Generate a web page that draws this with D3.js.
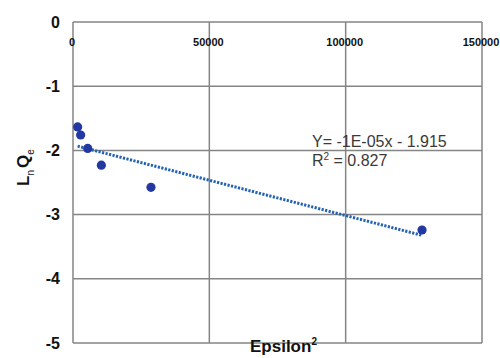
<!DOCTYPE html>
<html><head><meta charset="utf-8">
<script src="https://cdn.jsdelivr.net/npm/d3@7"></script>
<style>body{margin:0;background:#fff}svg{display:block}</style>
</head><body><svg id="c" width="500" height="358"></svg>
<script>
const xValues = [1700, 2800, 5400, 10400, 28600, 128000];
const yValues = [-1.635, -1.76, -1.97, -2.23, -2.575, -3.24];
const xTicks = [0, 50000, 100000, 150000];
const yTicks = [0, -1, -2, -3, -4, -5];
const trendSlope = -1.1e-5;
const trendIntercept = -1.915;
const eqLabel = "Y= -1E-05x - 1.915";
const r2Value = "0.827";

const svg = d3.select("#c");
const L = 73, R = 482, T = 22, B = 343;
const x = d3.scaleLinear().domain([0, 150000]).range([L, R]);
const y = d3.scaleLinear().domain([-5, 0]).range([B, T]);
const grid = "#858585";

// gridlines
svg.append("g").selectAll("line.v").data(xTicks).join("line")
  .attr("x1", d => x(d)).attr("x2", d => x(d)).attr("y1", T).attr("y2", B)
  .attr("stroke", grid).attr("stroke-width", 1.5);
svg.append("g").selectAll("line.h").data(yTicks).join("line")
  .attr("x1", L).attr("x2", R).attr("y1", d => y(d)).attr("y2", d => y(d))
  .attr("stroke", grid).attr("stroke-width", 1.5);

// y tick labels
svg.append("g").selectAll("text").data(yTicks).join("text")
  .attr("x", 60).attr("y", d => y(d)).attr("dy", "0.35em")
  .attr("text-anchor", "end")
  .attr("font-family", "Liberation Sans, Arial, sans-serif")
  .attr("font-weight", "bold").attr("font-size", 16).attr("fill", "#111")
  .text(d => d3.format("d")(d).replace("−", "-"));

// x tick labels (inside top)
svg.append("g").selectAll("text").data(xTicks).join("text")
  .attr("x", d => x(d) - 1).attr("y", 46)
  .attr("text-anchor", "middle")
  .attr("font-family", "Liberation Sans, Arial, sans-serif")
  .attr("font-weight", "bold").attr("font-size", 11).attr("fill", "#111")
  .text(d => d);

// trendline
const xmin = d3.min(xValues), xmax = d3.max(xValues);
svg.append("line")
  .attr("x1", x(xmin)).attr("y1", y(trendIntercept + trendSlope * xmin))
  .attr("x2", x(xmax)).attr("y2", y(trendIntercept + trendSlope * xmax))
  .attr("stroke", "#2462b4").attr("stroke-width", 3)
  .attr("stroke-dasharray", "2.2,1.4");

// points
svg.append("g").selectAll("circle").data(xValues).join("circle")
  .attr("cx", d => x(d)).attr("cy", (d, i) => y(yValues[i]))
  .attr("r", 4.6).attr("fill", "#2338a0");

// equation text
const eq = svg.append("g").attr("font-family", "Liberation Sans, Arial, sans-serif")
  .attr("font-size", 16).attr("fill", "#3a3a3a");
eq.append("text").attr("x", 312).attr("y", 147).text(eqLabel);
const r2 = eq.append("text").attr("x", 312).attr("y", 166);
r2.append("tspan").text("R");
r2.append("tspan").attr("font-size", 10).attr("dy", -6).text("2");
r2.append("tspan").attr("dy", 6).text(" = " + r2Value);

// x title
const xt = svg.append("text").attr("x", 250).attr("y", 352)
  .attr("font-family", "Liberation Sans, Arial, sans-serif")
  .attr("font-weight", "bold").attr("font-size", 17).attr("fill", "#111");
xt.append("tspan").text("Epsilon");
xt.append("tspan").attr("font-size", 10).attr("dy", -7).text("2");

// y title
const yt = svg.append("text")
  .attr("transform", "translate(29,186) rotate(-90)")
  .attr("font-family", "Liberation Sans, Arial, sans-serif")
  .attr("font-weight", "bold").attr("font-size", 17).attr("fill", "#111");
yt.append("tspan").text("L");
yt.append("tspan").attr("font-size", 10).attr("font-weight", "normal").attr("dy", 5).text("n");
yt.append("tspan").attr("dy", -5).attr("dx", 2).text("Q");
yt.append("tspan").attr("font-size", 10).attr("font-weight", "normal").attr("dy", 5).text("e");
</script></body></html>
